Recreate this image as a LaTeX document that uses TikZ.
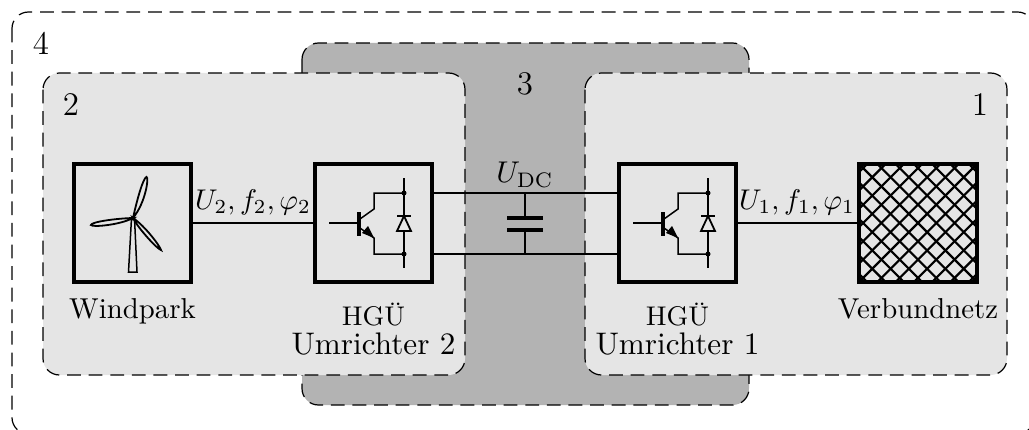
\documentclass[tikz,border=0pt]{standalone}
\usetikzlibrary{arrows.meta}
\definecolor{lightbg}{gray}{0.898}
\definecolor{midbg}{gray}{0.702}
\tikzset{
 region/.style={draw=black,line width=0.4pt,dash pattern=on 4.6pt off 2.6pt,rounded corners=5.5pt},
 blockbox/.style={draw=black,line width=1.33pt,minimum width=39.2pt,minimum height=39.2pt,inner sep=0pt,outer sep=0.66pt},
 wire/.style={line width=0.8pt},
 thinwire/.style={line width=0.5pt},
 bladeline/.style={line width=0.6pt,fill=lightbg},
 lbl/.style={inner sep=0pt,anchor=base},
 numlbl/.style={lbl,font=\fontsize{11}{13}\selectfont},
 caplbl/.style={lbl,font=\fontsize{9.6}{12}\selectfont},
 convlbl/.style={lbl,font=\fontsize{10.4}{12}\selectfont},
 hgulbl/.style={lbl,font=\fontsize{9}{11}\selectfont}
}
\begin{document}
\begin{tikzpicture}[x=0.3333pt,y=-0.3333pt]
\useasboundingbox (0,0) rectangle (1029,429);
\begin{scope}
\clip (0,0) rectangle (1029,429);
\draw[region] (12,12) rectangle (1034,434);
\end{scope}
% region 3
\filldraw[fill=midbg,region] (302,43) rectangle (749,405);
% light regions
\filldraw[fill=lightbg,region] (43,73) rectangle (465,375);
\filldraw[fill=lightbg,region] (585,73) rectangle (1007,375);
% blocks
\node[blockbox] (wp) at (132.5,223) {};
\node[blockbox] (u2) at (373.5,223) {};
\node[blockbox] (u1) at (677.5,223) {};
\node[blockbox] (vn) at (918,223) {};
% grid hatch
\begin{scope}
\clip (860,165) rectangle (976,281);
\foreach \k in {-8,...,8}{
 \draw[line width=0.72pt] (918+\k*18.3-120,223-120) -- (918+\k*18.3+120,223+120);
 \draw[line width=0.72pt] (918+\k*18.3-120,223+120) -- (918+\k*18.3+120,223-120);
}
\end{scope}
% connectors
\coordinate (c2t) at (u2.east |- 0,193);
\coordinate (c2b) at (u2.east |- 0,254);
\coordinate (c1t) at (u1.west |- 0,193);
\coordinate (c1b) at (u1.west |- 0,254);
\coordinate (captop) at (525,193);
\coordinate (capbot) at (525,254);
\coordinate (p1) at (525,218);
\coordinate (p2) at (525,230);
\draw[wire] (wp.east) -- (u2.west);
\draw[wire] (u1.east) -- (vn.west);
\draw[wire] (c2t) -- (c1t);
\draw[wire] (c2b) -- (c1b);
\draw[wire] (captop) -- (p1);
\draw[wire] (p2) -- (capbot);
\draw[line width=1.1pt] (507,218) -- (543,218);
\draw[line width=1.1pt] (507,230) -- (543,230);
% IGBT pics
\foreach \dx in {0,304}{
\begin{scope}[xshift=\dx*0.3333pt]
 \draw[thinwire] (329,223) -- (359,223);
 \draw[line width=1.3pt] (359,212) -- (359,236);
 \draw[thinwire] (360,219) -- (374,209) -- (374,193) -- (404,193);
 \draw[thinwire] (360,228) -- (374,238) -- (374,254) -- (404,254);
 \fill (374,238) -- (362,233) -- (368,226) -- cycle;
 \draw[thinwire] (404,178) -- (404,268);
 \fill (404,193) circle (2.5);
 \fill (404,254) circle (2.5);
 \filldraw[fill=lightbg,line width=0.6pt] (404,216) -- (397,231) -- (411,231) -- cycle;
 \draw[line width=0.6pt] (397,216) -- (411,216);
\end{scope}}
% turbine
\draw[line width=0.5pt,fill=lightbg] (131.5,218) -- (128.5,272) -- (137,272) -- (134.5,218) -- cycle;
\draw[bladeline] (133,218) .. controls (137,200) and (143,178) .. (146.5,177) .. controls (149,177) and (146,202) .. (133,218) -- cycle;
\draw[bladeline] (133,218) .. controls (115,218.5) and (91,222) .. (91,225) .. controls (92,227.5) and (120,225) .. (133,218) -- cycle;
\draw[bladeline] (133,218) .. controls (145,226) and (160,246) .. (161,250) .. controls (157,249) and (138,228) .. (133,218) -- cycle;
\fill (133,218) circle (2);
% labels
\node[numlbl] (n4) at (41,55) {4};
\node[numlbl] (n2) at (71,115) {2};
\node[numlbl] (n3) at (525,95) {3};
\node[numlbl] (n1) at (980,115) {1};
\node[lbl] (udc) at (525,183) {$U_{\mathrm{DC}}$};
\node[lbl] (l2) at (253,209) {\scalebox{.95}{$U_2,f_2,\varphi_2$}};
\node[lbl] (l1) at (797,209) {\scalebox{.95}{$U_1,f_1,\varphi_1$}};
\node[caplbl] (tw) at (132.5,318) {Windpark};
\node[caplbl] (tv) at (918,318) {Verbundnetz};
\node[hgulbl] (h2) at (373.5,325) {HGÜ};
\node[convlbl] (t2) at (373.5,354) {Umrichter 2};
\node[hgulbl] (h1) at (677.5,325) {HGÜ};
\node[convlbl] (t1) at (677.5,354) {Umrichter 1};
\end{tikzpicture}
\end{document}
